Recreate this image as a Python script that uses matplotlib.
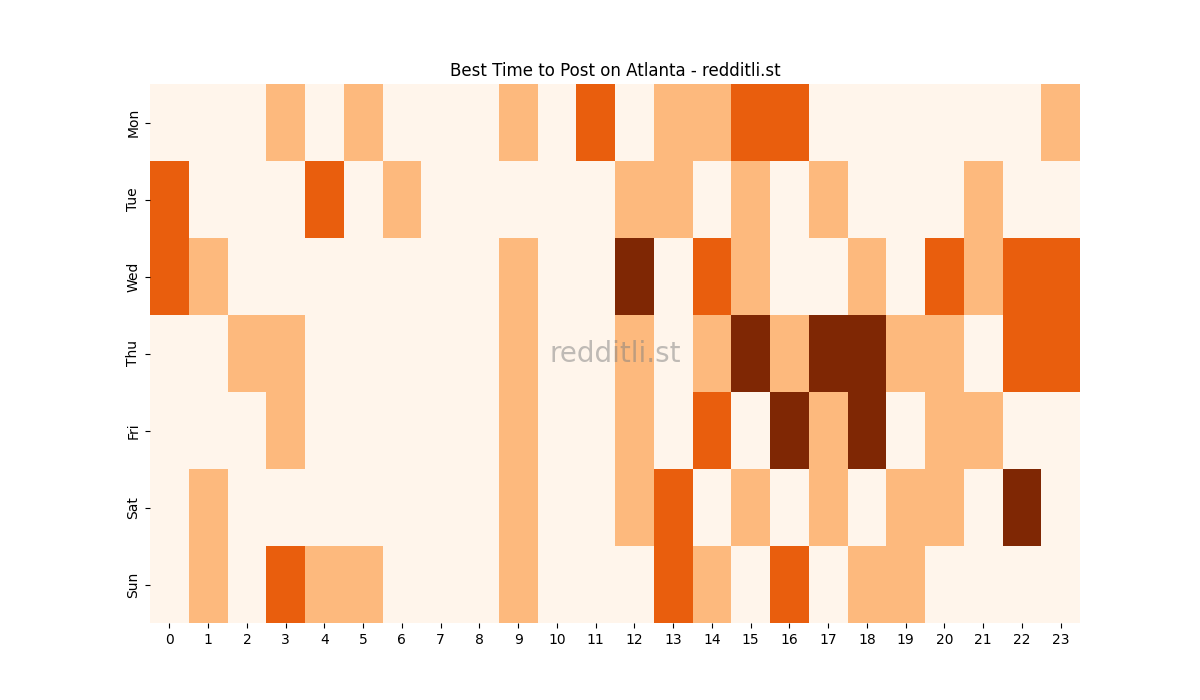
import numpy as np
import matplotlib
matplotlib.use('Agg')
import matplotlib.pyplot as plt
import seaborn as sns

days = ['Mon', 'Tue', 'Wed', 'Thu', 'Fri', 'Sat', 'Sun']
hours = list(range(24))

# activity level per hour (0 = low ... 3 = best)
mon = [0,0,0,1,0,1,0,0,0,1,0,2,0,1,1,2,2,0,0,0,0,0,0,1]
tue = [2,0,0,0,2,0,1,0,0,0,0,0,1,1,0,1,0,1,0,0,0,1,0,0]
wed = [2,1,0,0,0,0,0,0,0,1,0,0,3,0,2,1,0,0,1,0,2,1,2,2]
thu = [0,0,1,1,0,0,0,0,0,1,0,0,1,0,1,3,1,3,3,1,1,0,2,2]
fri = [0,0,0,1,0,0,0,0,0,1,0,0,1,0,2,0,3,1,3,0,1,1,0,0]
sat = [0,1,0,0,0,0,0,0,0,1,0,0,1,2,0,1,0,1,0,1,1,0,3,0]
sun = [0,1,0,2,1,1,0,0,0,1,0,0,0,2,1,0,2,0,1,1,0,0,0,0]

data = np.array([mon, tue, wed, thu, fri, sat, sun])

fig, ax = plt.subplots(figsize=(12, 7), dpi=100)
sns.heatmap(data, cmap='Oranges', cbar=False, xticklabels=hours, yticklabels=days, ax=ax)
ax.set_yticklabels(days, rotation=90, va='center')
ax.set_xticklabels(hours, rotation=0)
ax.set_title('Best Time to Post on Atlanta - redditli.st')
ax.text(0.5, 0.5, 'redditli.st', transform=ax.transAxes, ha='center', va='center',
        fontsize=20, color='gray', alpha=0.5)
plt.savefig('out.png')
